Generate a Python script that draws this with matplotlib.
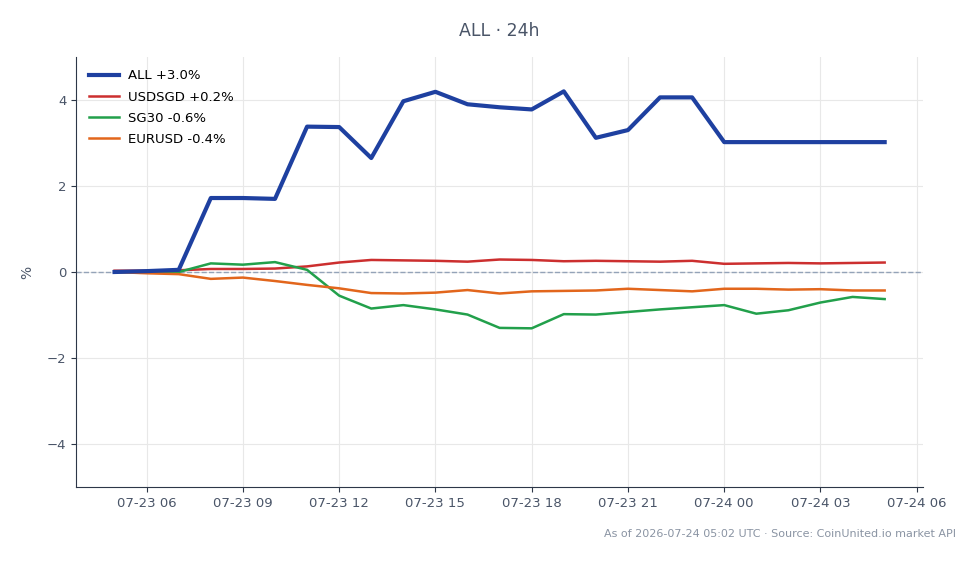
import matplotlib
matplotlib.use("Agg")
import matplotlib.pyplot as plt
import matplotlib.dates as mdates
import pandas as pd

# hourly points, 07-23 05:00 -> 07-24 05:00 UTC
times = pd.date_range("2026-07-23 05:00", "2026-07-24 05:00", freq="h")

all_pct = [0.0, 0.02, 0.05, 1.72, 1.72, 1.70, 3.38, 3.37, 2.65, 3.97, 4.19, 3.90, 3.83,
           3.78, 4.20, 3.12, 3.30, 4.06, 4.06, 3.02, 3.02, 3.02, 3.02, 3.02, 3.02]
usdsgd = [0.03, 0.03, 0.04, 0.07, 0.07, 0.08, 0.13, 0.22, 0.28, 0.27, 0.26, 0.24, 0.29,
          0.28, 0.25, 0.26, 0.25, 0.24, 0.26, 0.19, 0.20, 0.21, 0.20, 0.21, 0.22]
sg30 = [0.0, 0.0, 0.0, 0.20, 0.17, 0.23, 0.05, -0.55, -0.85, -0.77, -0.87, -0.99, -1.30,
        -1.31, -0.98, -0.99, -0.93, -0.87, -0.82, -0.77, -0.97, -0.89, -0.71, -0.58, -0.63]
eurusd = [0.0, -0.03, -0.05, -0.16, -0.13, -0.21, -0.30, -0.38, -0.49, -0.50, -0.48, -0.42,
          -0.50, -0.45, -0.44, -0.43, -0.39, -0.42, -0.45, -0.39, -0.39, -0.41, -0.40, -0.43, -0.43]

labels = ["ALL +3.0%", "USDSGD +0.2%", "SG30 -0.6%", "EURUSD -0.4%"]

text_col = "#4a5568"

fig = plt.figure(figsize=(9.8, 5.64), dpi=100)
ax = fig.add_axes([0.0776, 0.1365, 0.8644, 0.7625])

ax.axhline(0, color="#94a3b8", linestyle="--", linewidth=1, zorder=1)
ax.plot(times, all_pct, color="#1e40a0", linewidth=3, label=labels[0], zorder=5)
ax.plot(times, usdsgd, color="#cc2f2f", linewidth=1.8, label=labels[1], zorder=4)
ax.plot(times, sg30, color="#22a04b", linewidth=1.8, label=labels[2], zorder=4)
ax.plot(times, eurusd, color="#e2661c", linewidth=1.8, label=labels[3], zorder=4)

ax.set_ylim(-5, 5)
ax.set_yticks([-4, -2, 0, 2, 4])
ax.xaxis.set_major_locator(mdates.HourLocator(byhour=range(0, 24, 3)))
ax.xaxis.set_major_formatter(mdates.DateFormatter("%m-%d %H"))
ax.set_ylabel("%", color=text_col, fontsize=10, labelpad=9)
ax.grid(True, color="#e8e8e8", linewidth=0.8)
ax.set_axisbelow(True)
for s in ["top", "right"]:
    ax.spines[s].set_visible(False)
for s in ["left", "bottom"]:
    ax.spines[s].set_color("#2d3748")
ax.tick_params(colors="#2d3748", labelcolor=text_col, labelsize=9.5)

ax.set_title("ALL · 24h", color=text_col, fontsize=12.5, pad=15)
ax.legend(loc="upper left", frameon=False, fontsize=9.5, handlelength=2.3,
          handletextpad=0.7, labelspacing=0.62, borderaxespad=0.55)

fig.text(0.975, 0.054, "As of 2026-07-24 05:02 UTC · Source: CoinUnited.io market API",
         ha="right", va="center", fontsize=8, color="#8a94a3")

fig.savefig("out.png", dpi=100)
